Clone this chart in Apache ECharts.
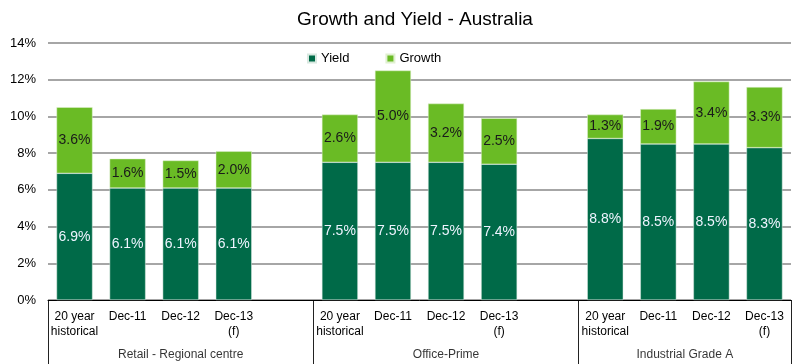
<!DOCTYPE html>
<html><head><meta charset="utf-8">
<script src="https://cdn.jsdelivr.net/npm/echarts@6/dist/echarts.min.js"></script>
<style>html,body{margin:0;padding:0;background:#fff}#c{width:800px;height:364px}</style>
</head><body><div id="c"></div>
<script>
const categories = ['20 year\nhistorical','Dec-11','Dec-12','Dec-13\n(f)','',
                    '20 year\nhistorical','Dec-11','Dec-12','Dec-13\n(f)','',
                    '20 year\nhistorical','Dec-11','Dec-12','Dec-13\n(f)'];
const yieldValues  = [6.9, 6.1, 6.1, 6.1, null, 7.5, 7.5, 7.5, 7.4, null, 8.8, 8.5, 8.5, 8.3];
const growthValues = [3.6, 1.6, 1.5, 2.0, null, 2.6, 5.0, 3.2, 2.5, null, 1.3, 1.9, 3.4, 3.3];
const groupNames   = ['Retail - Regional centre', 'Office-Prime', 'Industrial Grade A'];
const groupCenters = [2.5, 7.5, 12];
const FONT = 'Liberation Sans, Arial, sans-serif';

const chart = echarts.init(document.getElementById('c'), null, {renderer: 'canvas'});
const pct = p => (p.value == null ? '' : p.value.toFixed(1) + '%');
chart.setOption({
  animation: false,
  textStyle: {fontFamily: FONT},
  title: {
    text: 'Growth and Yield - Australia', left: 410, top: 5, textAlign: 'center',
    textStyle: {fontSize: 19, fontWeight: 'normal', color: '#000', fontFamily: FONT}
  },
  legend: {
    data: ['Yield', 'Growth'], left: 302, top: 47, icon: 'rect',
    itemWidth: 8, itemHeight: 8, itemGap: 36,
    textStyle: {fontSize: 13, color: '#000', fontFamily: FONT}
  },
  grid: [
    {left: 48, right: 9, top: 43, bottom: 64},
    {left: 48, right: 9, top: 300, height: 64}
  ],
  xAxis: [
    {gridIndex: 0, type: 'category', data: categories,
     axisLine: {show: true, lineStyle: {color: '#000', width: 1}},
     axisTick: {show: false},
     axisLabel: {interval: 0, fontSize: 12, color: '#000', lineHeight: 15, margin: 9, fontFamily: FONT}},
    {gridIndex: 1, type: 'value', min: 0, max: 14, interval: 5,
     axisLine: {show: false}, axisTick: {show: false}, axisLabel: {show: false},
     splitLine: {show: true, lineStyle: {color: '#222', width: 1}}}
  ],
  yAxis: [
    {gridIndex: 0, type: 'value', min: 0, max: 14, interval: 2,
     axisLine: {show: false}, axisTick: {show: false},
     axisLabel: {formatter: '{value}%', fontSize: 13, color: '#000', margin: 12, fontFamily: FONT},
     splitLine: {show: true, lineStyle: {color: '#a6a6a6', width: 2}}},
    {gridIndex: 1, type: 'value', min: 0, max: 1, show: false}
  ],
  series: [
    {name: 'Yield', type: 'bar', stack: 'a', data: yieldValues, barWidth: 36,
     itemStyle: {color: '#006a48', borderColor: '#d8e8e0', borderWidth: 0.5},
     label: {show: true, position: 'inside', formatter: pct, color: '#eef4ff', fontSize: 14, fontFamily: FONT}},
    {name: 'Growth', type: 'bar', stack: 'a', data: growthValues, barWidth: 36,
     itemStyle: {color: '#6abb25', borderColor: '#e0f0d0', borderWidth: 0.5},
     label: {show: true, position: 'inside', formatter: pct, color: '#1a1a1a', fontSize: 14, fontFamily: FONT}},
    {name: 'groups', type: 'scatter', xAxisIndex: 1, yAxisIndex: 1, symbolSize: 0, silent: true,
     data: groupCenters.map((c, i) => ({value: [c, 0.14], name: groupNames[i]})),
     label: {show: true, position: 'inside', formatter: '{b}', fontSize: 12, color: '#000', fontFamily: FONT}}
  ]
});
</script></body></html>
